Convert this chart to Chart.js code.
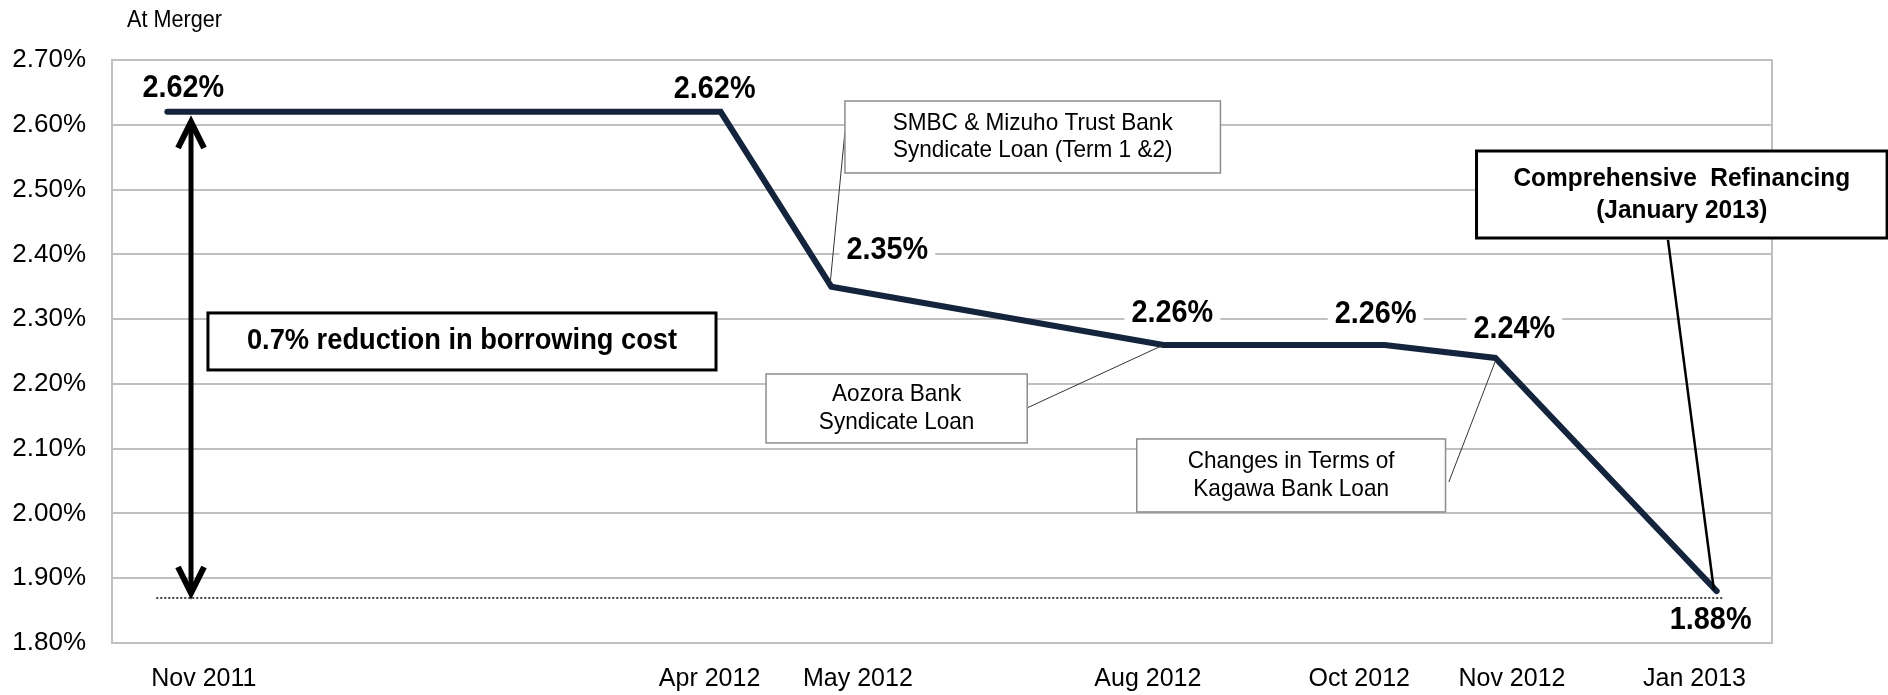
<!DOCTYPE html>
<html>
<head>
<meta charset="utf-8">
<script src="https://cdn.jsdelivr.net/npm/chart.js@4.4.1/dist/chart.umd.min.js"></script>
<style>
  html, body { margin: 0; padding: 0; background: #fff; }
</style>
</head>
<body>
<canvas id="rateChart" width="1888" height="695"></canvas>
<script>
// data
const periods = ['Nov 2011', 'Apr 2012', 'May 2012', 'Aug 2012', 'Oct 2012', 'Nov 2012', 'Jan 2013'];
const monthsFromMerger = [0, 5, 6, 9, 11, 12, 14];
const rates = [2.62, 2.62, 2.35, 2.26, 2.26, 2.24, 1.88];
const rateMin = 1.8;
const rateMax = 2.7;
const rateStep = 0.1;

const FONT = '"Liberation Sans", Arial, sans-serif';

// the period labels are nudged off their points in the original (months)
const tickNudge = [0.33, -0.10, 0.24, -0.14, -0.23, 0.15, -0.20];
// where each value label sits relative to its point (px)
const labelShift = [[16, -24], [-6, -23], [56, -37], [9, -33], [-9, -32], [19, -30], [-6, 28]];

// slightly condensed text, like the original
function squeezeText(ctx, txt, x, y, sx) {
  ctx.save();
  ctx.translate(x, y);
  ctx.scale(sx, 1);
  ctx.fillText(txt, 0, 0);
  ctx.restore();
}

const valueLabels = {
  id: 'valueLabels',
  afterDatasetsDraw(chart) {
    const ctx = chart.ctx;
    const meta = chart.getDatasetMeta(0);
    ctx.save();
    ctx.font = 'bold 31px ' + FONT;
    ctx.textAlign = 'center';
    ctx.textBaseline = 'middle';
    meta.data.forEach((pt, i) => {
      const txt = rates[i].toFixed(2) + '%';
      const cx = pt.x + labelShift[i][0];
      const cy = pt.y + labelShift[i][1];
      const w = ctx.measureText(txt).width * 0.93 + 14;
      ctx.fillStyle = '#fff';
      ctx.fillRect(cx - w / 2, cy - 15, w, 30);
      ctx.fillStyle = '#000';
      squeezeText(ctx, txt, cx, cy + 1, 0.93);
    });
    ctx.restore();
  }
};

function drawBox(ctx, x0, y0, x1, y1, lines, font, border, bw, gap) {
  ctx.fillStyle = '#fff';
  ctx.fillRect(x0, y0, x1 - x0, y1 - y0);
  ctx.strokeStyle = border;
  ctx.lineWidth = bw;
  ctx.strokeRect(x0, y0, x1 - x0, y1 - y0);
  ctx.fillStyle = '#000';
  ctx.font = font;
  ctx.textAlign = 'center';
  ctx.textBaseline = 'middle';
  const cx = (x0 + x1) / 2;
  const cy = (y0 + y1) / 2;
  lines.forEach((t, i) => {
    squeezeText(ctx, t, cx, cy + (i - (lines.length - 1) / 2) * gap, 0.94);
  });
}

function line(ctx, a, b, c, d, w, col) {
  ctx.strokeStyle = col;
  ctx.lineWidth = w;
  ctx.beginPath();
  ctx.moveTo(a, b);
  ctx.lineTo(c, d);
  ctx.stroke();
}

const notes = {
  id: 'notes',
  beforeDatasetsDraw(chart) {
    const { ctx, chartArea: a } = chart;
    ctx.save();
    ctx.strokeStyle = '#c0c0c0';
    ctx.lineWidth = 2;
    ctx.strokeRect(a.left, a.top, a.right - a.left, a.bottom - a.top);
    ctx.restore();
  },
  afterDatasetsDraw(chart) {
    const { ctx, chartArea: a, scales: { x, y } } = chart;
    const X = v => x.getPixelForValue(v);
    const Y = v => y.getPixelForValue(v);
    ctx.save();

    // "At Merger"
    ctx.fillStyle = '#000';
    ctx.font = '23px ' + FONT;
    ctx.textAlign = 'left';
    ctx.textBaseline = 'middle';
    squeezeText(ctx, 'At Merger', a.left + 15, a.top - 39, 0.94);

    // dotted floor line
    ctx.setLineDash([2, 2]);
    line(ctx, X(-0.1), Y(1.8695), X(14.05), Y(1.8695), 1.5, '#000');
    ctx.setLineDash([]);

    // double arrow
    const ax = X(0.214), top = Y(2.6105), bot = Y(1.871);
    line(ctx, ax, top + 4, ax, bot - 4, 5, '#000');
    ctx.lineWidth = 6;
    ctx.lineJoin = 'miter';
    ctx.beginPath();
    ctx.moveTo(ax - 13, top + 30); ctx.lineTo(ax, top + 4); ctx.lineTo(ax + 13, top + 30);
    ctx.stroke();
    ctx.beginPath();
    ctx.moveTo(ax - 13, bot - 30); ctx.lineTo(ax, bot - 4); ctx.lineTo(ax + 13, bot - 30);
    ctx.stroke();

    drawBox(ctx, X(0.367), Y(2.3095), X(4.958), Y(2.2215),
      ['0.7% reduction in borrowing cost'], 'bold 29px ' + FONT, '#000', 3, 0);

    // leader lines
    line(ctx, X(6.123), Y(2.589), X(5.99), Y(2.356), 1, '#333');
    line(ctx, X(7.77), Y(2.163), X(9), Y(2.26), 1, '#333');
    line(ctx, X(11.58), Y(2.0486), X(12), Y(2.235), 1, '#333');
    line(ctx, X(13.56), Y(2.4222), X(13.975), Y(1.8818), 2.5, '#000');

    drawBox(ctx, X(6.123), Y(2.6367), X(9.516), Y(2.5256),
      ['SMBC & Mizuho Trust Bank', 'Syndicate Loan (Term 1 &2)'], '24px ' + FONT, '#8c8c8c', 1.5, 27);
    drawBox(ctx, X(5.41), Y(2.2153), X(7.77), Y(2.1088),
      ['Aozora Bank', 'Syndicate Loan'], '24px ' + FONT, '#8c8c8c', 1.5, 28);
    drawBox(ctx, X(8.76), Y(2.115), X(11.55), Y(2.0023),
      ['Changes in Terms of', 'Kagawa Bank Loan'], '24px ' + FONT, '#8c8c8c', 1.5, 28);
    drawBox(ctx, X(11.83), Y(2.5595), X(15.54), Y(2.4252),
      ['Comprehensive  Refinancing', '(January 2013)'], 'bold 26px ' + FONT, '#000', 3, 32);

    ctx.restore();
  }
};

const ctx = document.getElementById('rateChart').getContext('2d');
new Chart(ctx, {
  type: 'line',
  data: {
    datasets: [{
      data: monthsFromMerger.map((m, i) => ({ x: m, y: rates[i] })),
      borderColor: '#14243d',
      borderWidth: 6,
      borderCapStyle: 'round',
      pointRadius: 0,
      tension: 0
    }]
  },
  options: {
    responsive: false,
    animation: false,
    devicePixelRatio: 1,
    layout: { padding: { top: 60, right: 116, left: 0, bottom: 0 } },
    plugins: { legend: { display: false }, tooltip: { enabled: false } },
    scales: {
      x: {
        type: 'linear',
        min: -0.5,
        max: 14.5,
        afterBuildTicks: axis => {
          axis.ticks = monthsFromMerger.map((v, i) => ({ value: v + tickNudge[i] }));
        },
        afterFit: s => { s.height = 52; },
        grid: { display: false, drawTicks: false },
        border: { display: false },
        ticks: {
          autoSkip: false,
          maxRotation: 0,
          padding: 21,
          color: '#000',
          font: { family: FONT, size: 25 },
          callback: (v, i) => periods[i]
        }
      },
      y: {
        min: rateMin,
        max: rateMax,
        afterFit: s => { s.width = 112; },
        grid: { color: '#c0c0c0', lineWidth: 2, drawTicks: false },
        border: { display: false },
        ticks: {
          stepSize: rateStep,
          padding: 26,
          color: '#000',
          font: { family: FONT, size: 26 },
          callback: v => v.toFixed(2) + '%'
        }
      }
    }
  },
  plugins: [notes, valueLabels]
});
</script>
</body>
</html>
